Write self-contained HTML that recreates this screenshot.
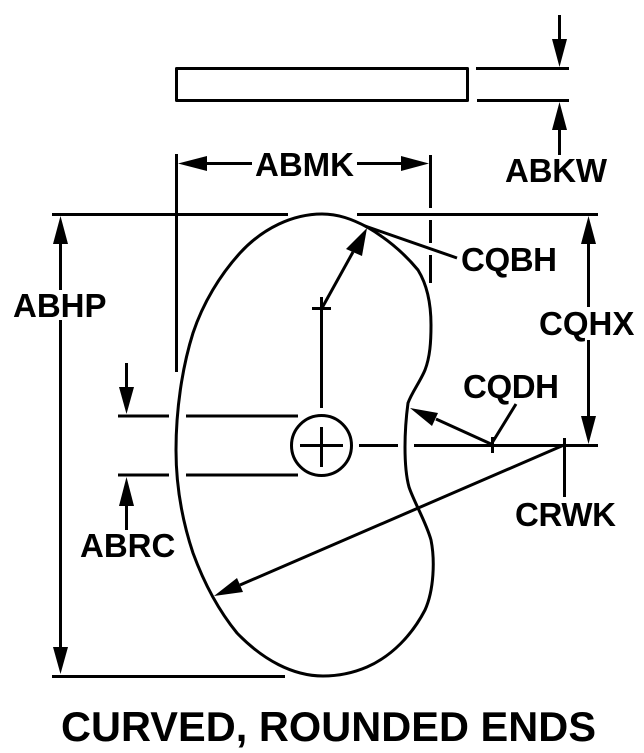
<!DOCTYPE html>
<html>
<head>
<meta charset="utf-8">
<style>
html,body{margin:0;padding:0;background:#fff;width:644px;height:753px;overflow:hidden}
svg{display:block}
text{font-family:"Liberation Sans",sans-serif;font-weight:bold;fill:#000;font-size:33px}
</style>
</head>
<body>
<svg width="644" height="753" viewBox="0 0 644 753" xmlns="http://www.w3.org/2000/svg">
<rect width="644" height="753" fill="#fff"/>
<g fill="none" stroke="#000" stroke-width="3" stroke-linejoin="round">
<path d="M322 214C338 214 352 219 367 227C386 238 404 253 418 270C426 283 431 300 431 325C431 342 430 357 425 370C420 382 412 392 408 403C406 418 405 432 405 447C405 462 406 476 409 487C414 502 426 522 431 540C435 560 434 590 425 610C412 635 392 656 367 667C353 673 338 676 323 676C293 676 263 660 237 633C219 611 204 583 193 553C182 520 176 485 176 450C176 410 182 368 193 333C203 303 220 275 240 253C263 228 293 214 322 214Z"/>
<rect x="176.5" y="68.5" width="291" height="32"/>
<circle cx="321.5" cy="445.5" r="30"/>
<path d="M476 68.5H569M477 100.5H569"/>
<path d="M559.5 15V45M559.5 125V155"/>
<path d="M176.5 154V372M430.5 155V208M430.5 220V243M430.5 255V283"/>
<path d="M200 163.5H252M357 163.5H405"/>
<path d="M52 214.5H288M357 214.5H598M52 676.5H285"/>
<path d="M60.5 240V290M60.5 320V650"/>
<path d="M118 416H169M186 416H298M118 475H169M186 475H298"/>
<path d="M126.5 363V392M126.5 500V530"/>
<path d="M321.5 297V408M321.5 427V467M300 445.5H343M312 308.5H331"/>
<path d="M359 445.5H398M414 445.5H598"/>
<path d="M588.5 240V307M588.5 340V420"/>
<path d="M322 308L353 252"/>
<path d="M365 226L457 258"/>
<path d="M491 444L436 419"/>
<path d="M492.5 437V453M492 443L516 404"/>
<path d="M564.5 438V497"/>
<path d="M564 445L240 585"/>
</g>
<g fill="#000" stroke="none">
<polygon points="559.5,67 552,39 567,39"/>
<polygon points="559.5,102 552,130 567,130"/>
<polygon points="178,163.5 207,156 207,171"/>
<polygon points="429,163.5 401,156 401,171"/>
<polygon points="60.5,216 53,244 68,244"/>
<polygon points="60.5,674 53,647 68,647"/>
<polygon points="126.5,414 119,387 134,387"/>
<polygon points="126.5,477 119,506 134,506"/>
<polygon points="588.5,216 581,244 596,244"/>
<polygon points="588.5,444 581,416 596,416"/>
<polygon points="367,228 362,256 346,249"/>
<polygon points="410,408 438,413 432,426"/>
<polygon points="214,596 237,578 243,592"/>
</g>
<text x="255" y="176">ABMK</text>
<text x="505" y="182" textLength="102">ABKW</text>
<text x="461" y="271" textLength="96">CQBH</text>
<text x="13" y="317">ABHP</text>
<text x="539" y="335">CQHX</text>
<text x="463" y="398" textLength="96">CQDH</text>
<text x="515" y="526" textLength="101">CRWK</text>
<text x="80" y="557">ABRC</text>
<text x="61" y="741" style="font-size:41.5px" textLength="535">CURVED, ROUNDED ENDS</text>
</svg>
</body>
</html>
